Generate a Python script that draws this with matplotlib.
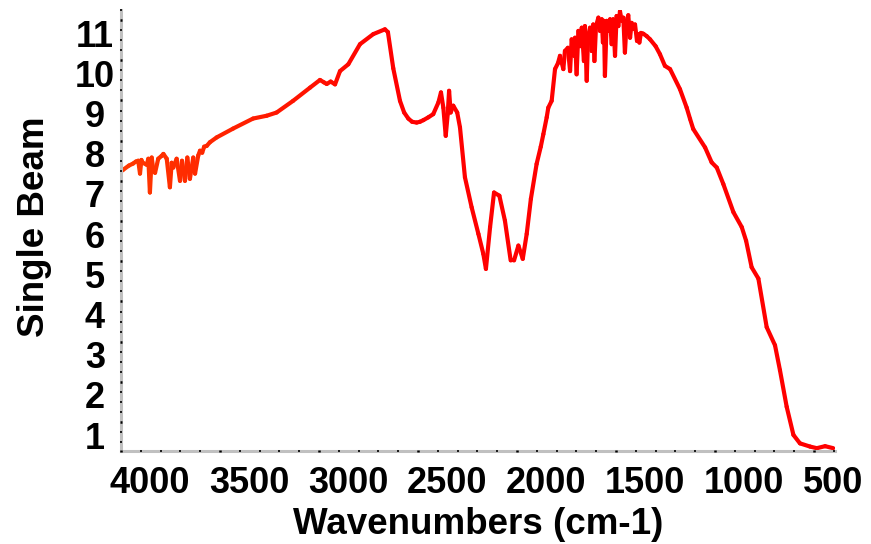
import numpy as np
import matplotlib
matplotlib.use("Agg")
import matplotlib.pyplot as plt
import matplotlib.transforms as mtransforms
from matplotlib.collections import LineCollection
from matplotlib.colors import to_rgb

plt.rcParams['font.family'] = ['Liberation Sans', 'DejaVu Sans']
plt.rcParams['font.weight'] = 'bold'

# single beam spectrum, wavenumber (cm-1) vs intensity
wavenumber = [
    3996, 3988, 3960, 3939, 3925, 3913, 3904, 3897, 3890, 3870, 3862, 3854,
    3845, 3836, 3828, 3812, 3795, 3786, 3769, 3753, 3744, 3736, 3719, 3702,
    3692, 3677, 3665, 3652, 3635, 3626, 3610, 3601, 3590, 3580, 3567, 3551,
    3517, 3434, 3333, 3264, 3214,
    3131, 3045, 2995, 2975, 2961, 2941, 2919, 2894, 2852, 2793, 2726, 2667,
    2652, 2625, 2591, 2570, 2549, 2530, 2507, 2490, 2473, 2448, 2423, 2397,
    2384, 2372, 2360, 2350, 2343, 2335, 2322, 2302, 2288, 2263, 2229, 2195,
    2170, 2157, 2136, 2116, 2089, 2061, 2032, 2015, 1993, 1971, 1951, 1930,
    1901, 1880, 1867, 1850, 1842, 1825,
    1808, 1793, 1783, 1766, 1758, 1743, 1732, 1724, 1712, 1707, 1699, 1690,
    1682, 1673, 1662, 1657, 1648, 1641, 1631, 1623, 1615, 1609, 1601, 1589,
    1581, 1572, 1566, 1561, 1556, 1547, 1539, 1530, 1522, 1514, 1505, 1497,
    1488, 1480, 1471, 1463, 1455, 1446, 1438, 1429, 1421, 1413, 1404, 1394,
    1387, 1382, 1374, 1362, 1345, 1328,
    1300, 1278, 1253, 1227, 1177, 1143, 1126, 1110, 1050, 1017, 991, 958,
    907, 865, 843, 815, 781, 739, 697, 672, 638, 604, 571, 520, 486, 444, 403,
]
single_beam = [
    7.25, 7.28, 7.38, 7.43, 7.48, 7.50, 7.18, 7.52, 7.45, 7.40, 7.55, 6.71,
    7.58, 7.25, 7.20, 7.55, 7.62, 7.67, 7.55, 6.84, 7.45, 7.33, 7.55, 7.00,
    7.50, 7.00, 7.58, 7.05, 7.58, 7.18, 7.63, 7.75, 7.70, 7.85, 7.87, 7.96,
    8.08, 8.30, 8.55, 8.62, 8.70,
    8.99, 9.32, 9.51, 9.45, 9.41, 9.47, 9.40, 9.73, 9.90, 10.40, 10.65, 10.77,
    10.70, 9.80, 8.99, 8.70, 8.55, 8.47, 8.45, 8.47, 8.51, 8.58, 8.66, 8.95,
    9.20, 8.82, 8.12, 8.66, 9.24, 8.70, 8.87, 8.70, 8.33, 7.09, 6.34, 5.68,
    5.18, 4.81, 5.85, 6.71, 6.63, 6.01, 5.02, 5.02, 5.39, 5.06, 5.68, 6.55,
    7.42, 7.85, 8.16, 8.58, 8.82, 8.99,
    9.78, 9.93, 10.11, 9.78, 10.23, 10.31, 9.73, 10.52, 10.11, 10.56, 9.65, 10.73,
    10.35, 10.81, 9.98, 10.85, 9.49, 10.60, 10.81, 10.23, 10.89, 9.98, 10.85, 11.06,
    10.73, 11.02, 10.44, 10.98, 9.61, 10.98, 10.73, 11.02, 10.40, 11.02, 10.11, 11.10,
    10.85, 11.22, 10.98, 11.06, 10.19, 10.98, 11.12, 10.56, 10.93, 10.78, 10.89, 10.48,
    10.65, 10.44, 10.68, 10.66, 10.60, 10.52,
    10.35, 10.15, 9.86, 9.78, 9.28, 8.82, 8.54, 8.29, 7.83, 7.46, 7.33, 6.92,
    6.22, 5.85, 5.51, 4.85, 4.57, 3.36, 2.91, 2.29, 1.38, 0.68, 0.47, 0.39, 0.35, 0.40, 0.35,
]
x_ticks = [4000, 3500, 3000, 2500, 2000, 1500, 1000, 500]
y_ticks = list(range(1, 12))

x = np.array(wavenumber, dtype=float)
y = np.array(single_beam, dtype=float)

fig = plt.figure(figsize=(8.71, 5.44), dpi=100)
ax = fig.add_axes([121/871, 93/544, 714/871, 441/544])

# orange-red at high wavenumber fading to pure red
c_hi = np.array(to_rgb('#ff3a00'))
c_lo = np.array(to_rgb('#ff0000'))
pts = np.column_stack([x, y]).reshape(-1, 1, 2)
segs = np.concatenate([pts[:-1], pts[1:]], axis=1)
mid = (x[:-1] + x[1:]) / 2
t = np.clip((mid - 2650) / (4000 - 2650), 0, 1)[:, None]
cols = c_lo + (c_hi - c_lo) * t
lc = LineCollection(segs, colors=cols, linewidths=3.0, capstyle='round', joinstyle='round')
ax.add_collection(lc)

ax.set_xlim(4000, 394)
ax.set_ylim(0.28, 11.25)

for s in ['top', 'right']:
    ax.spines[s].set_visible(False)
for s in ['left', 'bottom']:
    ax.spines[s].set_color('#c0c0c0')
    ax.spines[s].set_linewidth(2.2)
    ax.spines[s].set_zorder(2)
ax.xaxis.set_zorder(3)
ax.yaxis.set_zorder(3)

ax.set_xticks(x_ticks)
ax.set_xticks(np.arange(400, 4001, 100), minor=True)
ax.set_yticks(y_ticks)
ax.set_yticks(np.arange(0.5, 11.26, 0.25), minor=True)
ax.tick_params(which='both', direction='inout', color='black')
ax.tick_params(which='major', length=1.8, width=1.8, labelsize=26)
ax.tick_params(axis='x', which='major', pad=10)
ax.tick_params(axis='y', which='major', pad=0)
ax.tick_params(which='minor', length=1.2, width=1.2)

dx = mtransforms.ScaledTranslation(-0.11, 0, fig.dpi_scale_trans)
for lab in ax.get_xticklabels():
    lab.set_ha('left')
    lab.set_transform(lab.get_transform() + dx)
dy = mtransforms.ScaledTranslation(-0.25, -0.17, fig.dpi_scale_trans)
for lab in ax.get_yticklabels():
    lab.set_ha('center')
    lab.set_va('center')
    lab.set_transform(lab.get_transform() + dy)

ax.set_xlabel('Wavenumbers (cm-1)', fontsize=26.5, fontweight='bold')
ax.set_ylabel('Single Beam', fontsize=26.5, fontweight='bold')
ax.xaxis.set_label_coords(0.5, -0.128)
ax.yaxis.set_label_coords(-0.097, 0.509)

fig.savefig('out.png', dpi=100)
